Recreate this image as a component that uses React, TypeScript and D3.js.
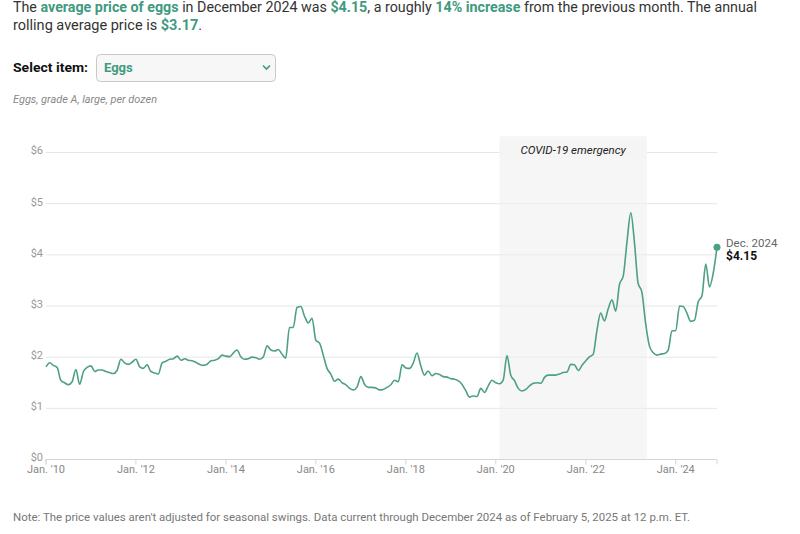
import React from "react";
import * as d3 from "d3";

// Monthly average price, eggs grade A large, per dozen (USD)
const p2010 = [1.81, 1.89, 1.84, 1.80, 1.55, 1.50, 1.46, 1.52, 1.76, 1.47, 1.72, 1.80];
const p2011 = [1.83, 1.72, 1.75, 1.75, 1.72, 1.70, 1.68, 1.74, 1.96, 1.89, 1.86, 1.90];
const p2012 = [1.96, 1.81, 1.78, 1.85, 1.72, 1.69, 1.67, 1.89, 1.92, 1.96, 1.97, 2.02];
const p2013 = [1.94, 1.97, 1.94, 1.93, 1.90, 1.86, 1.84, 1.86, 1.93, 1.94, 1.97, 2.04];
const p2014 = [2.02, 2.01, 2.08, 2.14, 2.01, 1.96, 1.97, 2.00, 1.99, 1.96, 2.01, 2.22];
const p2015 = [2.14, 2.12, 2.15, 2.06, 1.98, 2.58, 2.58, 2.97, 2.99, 2.80, 2.67, 2.76];
const p2016 = [2.33, 2.27, 2.04, 1.78, 1.67, 1.53, 1.57, 1.50, 1.46, 1.39, 1.36, 1.42];
const p2017 = [1.62, 1.46, 1.41, 1.41, 1.40, 1.36, 1.37, 1.41, 1.46, 1.55, 1.52, 1.85];
const p2018 = [1.79, 1.78, 1.88, 2.08, 1.84, 1.65, 1.73, 1.64, 1.68, 1.66, 1.62, 1.61];
const p2019 = [1.58, 1.57, 1.54, 1.47, 1.35, 1.22, 1.24, 1.23, 1.39, 1.31, 1.44, 1.55];
const p2020 = [1.50, 1.48, 1.55, 2.03, 1.65, 1.54, 1.39, 1.34, 1.37, 1.44, 1.49, 1.50];
const p2021 = [1.49, 1.61, 1.65, 1.65, 1.65, 1.67, 1.70, 1.71, 1.86, 1.85, 1.74, 1.84];
const p2022 = [1.93, 2.01, 2.05, 2.52, 2.86, 2.71, 2.94, 3.12, 2.90, 3.42, 3.59, 4.25];
const p2023 = [4.82, 4.21, 3.45, 3.27, 2.67, 2.22, 2.09, 2.04, 2.06, 2.07, 2.14, 2.51];
const p2024 = [2.52, 3.00, 2.99, 2.86, 2.70, 2.72, 3.08, 3.20, 3.82, 3.37, 3.65, 4.15];

const yearlyPrices = [p2010, p2011, p2012, p2013, p2014, p2015, p2016, p2017, p2018, p2019, p2020, p2021, p2022, p2023, p2024];
const startYear = 2010;

const yTicks = [0, 1, 2, 3, 4, 5, 6];
const xTickYears = [2010, 2012, 2014, 2016, 2018, 2020, 2022, 2024];
const covidStart = new Date(2020, 0, 31);
const covidEnd = new Date(2023, 4, 11);

const TEAL = "#3f9a80";
const LINE = "#4e9f88";

export default function App() {
  const data = yearlyPrices.flatMap((arr, yi) =>
    arr.map((v, m) => ({ date: new Date(startYear + yi, m, 1), value: v }))
  );
  const last = data[data.length - 1];

  const x = d3.scaleTime().domain([data[0].date, last.date]).range([46, 717]);
  const y = d3.scaleLinear().domain([0, 6]).range([459.5, 152.5]);

  const line = d3
    .line<{ date: Date; value: number }>()
    .x((d) => x(d.date))
    .y((d) => y(d.value))
    .curve(d3.curveMonotoneX);

  const fmt = d3.timeFormat("%y");
  const font = "Roboto, 'Liberation Sans', Arial, sans-serif";
  const [x0, x1] = x.range();
  const cx0 = x(covidStart);
  const cx1 = x(covidEnd);

  return (
    <svg
      width={800}
      height={534}
      style={{ position: "absolute", left: 0, top: 0, background: "#fff" }}
      fontFamily={font}
    >
      <rect x={0} y={0} width={800} height={534} fill="#fff" />
      {/* Intro text */}
      <text x={13} y={12} fontSize={14.5} fill="#333" textLength={744} lengthAdjust="spacingAndGlyphs">
        The <tspan fill={TEAL} fontWeight={700}>average price of eggs</tspan> in December 2024 was{" "}
        <tspan fill={TEAL} fontWeight={700}>$4.15</tspan>, a roughly{" "}
        <tspan fill={TEAL} fontWeight={700}>14% increase</tspan> from the previous month. The annual
      </text>
      <text x={13} y={30} fontSize={14.5} fill="#333">
        rolling average price is <tspan fill={TEAL} fontWeight={700}>$3.17</tspan>.
      </text>

      {/* Select */}
      <text x={13} y={72} fontSize={13} fontWeight={700} fill="#111" textLength={75} lengthAdjust="spacingAndGlyphs">
        Select item:
      </text>
      <rect x={96.5} y={54.5} width={179} height={27} rx={4} fill="#f7f7f7" stroke="#c9c9c9" />
      <text x={104} y={72} fontSize={13} fontWeight={700} fill={TEAL}>
        Eggs
      </text>
      <path d="M263,65.5 l3.5,3.5 l3.5,-3.5" fill="none" stroke={TEAL} strokeWidth={1.6} />

      <text x={13} y={103} fontSize={11.5} fontStyle="italic" fill="#888" textLength={144} lengthAdjust="spacingAndGlyphs">
        Eggs, grade A, large, per dozen
      </text>

      {/* Y grid + labels */}
      {yTicks.map((t) => (
        <g key={t}>
          {t > 0 && <line x1={x0} x2={x1} y1={y(t)} y2={y(t)} stroke="#e6e6e6" strokeWidth={1} />}
          <text x={43} y={y(t) - 2} dy="0.35em" textAnchor="end" fontSize={11} fill="#999">
            ${t}
          </text>
        </g>
      ))}

      {/* COVID shading */}
      <rect x={cx0} y={136} width={cx1 - cx0} height={y(0) - 136} fill="#eeeeee" fillOpacity={0.55} />
      <rect x={cx0} y={140} width={cx1 - cx0} height={18} fill="#f5f5f5" />
      <text x={(cx0 + cx1) / 2} y={154} textAnchor="middle" fontSize={11.5} fontStyle="italic" fill="#222">
        COVID-19 emergency
      </text>

      {/* X axis */}
      <path d={`M${x0},${y(0) + 5}V${y(0)}H${x1}V${y(0) + 5}`} fill="none" stroke="#d6d6d6" />
      {xTickYears.map((yr) => {
        const d = new Date(yr, 0, 1);
        const px = x(d);
        return (
          <g key={yr}>
            <line x1={px} x2={px} y1={y(0)} y2={y(0) + 5} stroke="#d6d6d6" />
            <text x={px} y={473} textAnchor="middle" fontSize={11} fill="#888">
              Jan. '{fmt(d)}
            </text>
          </g>
        );
      })}

      {/* Line */}
      <path d={line(data) || ""} fill="none" stroke={LINE} strokeWidth={1.6} />
      <circle cx={x(last.date)} cy={y(last.value)} r={3.5} fill={LINE} />
      <text x={726} y={247} fontSize={11.5} fill="#666">
        Dec. 2024
      </text>
      <text x={726} y={260} fontSize={12} fontWeight={700} fill="#111">
        ${last.value.toFixed(2)}
      </text>

      {/* Note */}
      <text x={13} y={521} fontSize={11.5} fill="#777" textLength={677} lengthAdjust="spacingAndGlyphs">
        Note: The price values aren't adjusted for seasonal swings. Data current through December 2024 as of February 5, 2025 at 12 p.m. ET.
      </text>
    </svg>
  );
}
